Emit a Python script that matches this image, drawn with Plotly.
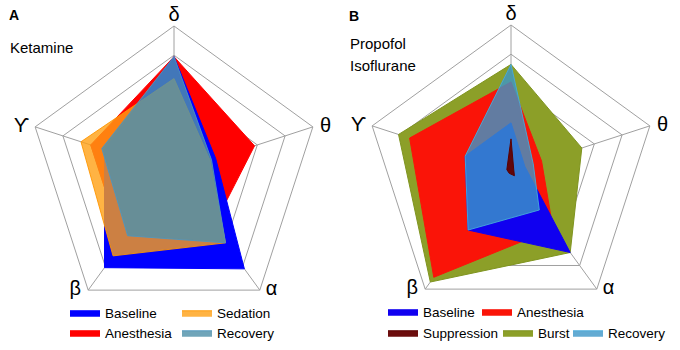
import plotly.graph_objects as go

# ---------------- data ----------------
axes = ['δ', 'θ', 'α', 'β', 'ϒ']
radial_ticks = [0.2, 0.4, 0.6, 0.8, 1.0]

# Panel A (Ketamine)
a_baseline = [0.79, 0.30, 0.82, 0.81, 0.50]
a_anesthesia = [0.79, 0.58, 0.46, 0.60, 0.60]
a_sedation = [0.64, 0.26, 0.60, 0.71, 0.67]
a_recovery = [0.79, 0.27, 0.60, 0.54, 0.52]

# Panel B (Propofol / Isoflurane)
b_baseline = [0.33, 0.10, 0.69, 0.50, 0.33]
b_anesthesia = [0.61, 0.22, 0.49, 0.90, 0.73]
b_suppression = [0.22, 0.02, 0.04, 0.02, 0.03]
b_burst = [0.73, 0.51, 0.69, 0.94, 0.81]
b_recovery = [0.73, 0.16, 0.33, 0.50, 0.33]

FONT = 'Liberation Sans, Arial, sans-serif'
W, H = 680, 350
LABEL_POS = ['top center', 'middle right', 'middle right', 'middle left', 'middle left']
LABEL_GAP = [0, 10, 8, 10, 8]


def closed(v):
    return list(v) + [v[0]]


def poly(name, vals, sub, fill, line, legend):
    return go.Scatterpolar(
        r=closed(vals), theta=closed(axes), subplot=sub, name=name,
        mode='lines', fill='toself', fillcolor=fill,
        line=dict(color=line, width=1), legend=legend,
        hoverinfo='name+r+theta')


def axis_labels(sub):
    rmax = radial_ticks[-1]
    return go.Scatterpolar(
        r=[rmax] * len(axes), theta=axes, subplot=sub, mode='markers+text',
        text=axes, textposition=LABEL_POS, cliponaxis=False,
        marker=dict(size=LABEL_GAP, opacity=0), showlegend=False, hoverinfo='skip',
        textfont=dict(family=FONT, size=20, color='black'))


fig = go.Figure()
# Panel A traces (bottom to top)
fig.add_trace(poly('Anesthesia', a_anesthesia, 'polar', '#FF0000', '#FF0000', 'legend3'))
fig.add_trace(poly('Baseline', a_baseline, 'polar', '#0000FF', '#0000FF', 'legend'))
fig.add_trace(poly('Sedation', a_sedation, 'polar', 'rgba(255,160,20,0.8)', 'rgba(255,150,0,0.9)', 'legend2'))
fig.add_trace(poly('Recovery', a_recovery, 'polar', 'rgba(80,145,170,0.82)', 'rgba(80,150,190,0.9)', 'legend4'))
fig.add_trace(axis_labels('polar'))

# Panel B traces (bottom to top)
fig.add_trace(poly('Burst', b_burst, 'polar2', '#8C9F28', '#7F9420', 'legend8'))
fig.add_trace(poly('Anesthesia', b_anesthesia, 'polar2', '#FA1408', '#FA1408', 'legend6'))
fig.add_trace(poly('Baseline', b_baseline, 'polar2', '#1000F0', '#1000F0', 'legend5'))
fig.add_trace(poly('Recovery', b_recovery, 'polar2', 'rgba(60,150,200,0.8)', 'rgba(70,170,220,0.9)', 'legend9'))
fig.add_trace(poly('Suppression', b_suppression, 'polar2', 'rgba(100,0,0,0.95)', '#5A0000', 'legend7'))
fig.add_trace(axis_labels('polar2'))

GRID = '#A0A0A0'


def polar_layout(xdom, ydom):
    return dict(
        domain=dict(x=xdom, y=ydom),
        gridshape='linear',
        bgcolor='rgba(0,0,0,0)',
        radialaxis=dict(range=[0, 1], tickvals=radial_ticks, showticklabels=False,
                        showline=False, ticks='', gridcolor=GRID, gridwidth=1),
        angularaxis=dict(type='category', categoryarray=axes, rotation=90,
                         direction='clockwise', showline=True, linecolor=GRID,
                         linewidth=1, gridcolor=GRID, gridwidth=1, ticks='',
                         showticklabels=False),
    )


R = 146
ca = (174, 172)
cb = (511, 171)


def dom(c):
    x0 = (c[0] - R) / W
    x1 = (c[0] + R) / W
    y0 = (H - c[1] - R) / H
    y1 = (H - c[1] + R) / H
    return [x0, x1], [y0, y1]


xa, ya = dom(ca)
xb, yb = dom(cb)


def leg(xtext, ytext):
    # xtext: pixel where legend text starts, ytext: pixel row (from top)
    return dict(orientation='h', font=dict(family=FONT, size=13.5, color='black'),
                bgcolor='rgba(0,0,0,0)', xanchor='left', yanchor='middle',
                x=(xtext - 40) / W, y=1 - ytext / H,
                itemclick=False, itemdoubleclick=False)


fig.update_layout(
    width=W, height=H,
    margin=dict(l=0, r=0, t=0, b=0, autoexpand=False),
    paper_bgcolor='white',
    showlegend=True,
    font=dict(family=FONT, color='black'),
    polar=polar_layout(xa, ya),
    polar2=polar_layout(xb, yb),
    legend=leg(105, 313),
    legend2=leg(217, 313),
    legend3=leg(105, 333),
    legend4=leg(217, 333),
    legend5=leg(423, 312),
    legend6=leg(517, 312),
    legend7=leg(423, 333),
    legend8=leg(538, 333),
    legend9=leg(608, 333),
    annotations=[
        dict(text='<b>A</b>', x=7 / W, y=1 - 15 / H, xref='paper', yref='paper',
             xanchor='left', yanchor='middle', showarrow=False, font=dict(size=14)),
        dict(text='Ketamine', x=8 / W, y=1 - 47 / H, xref='paper', yref='paper',
             xanchor='left', yanchor='middle', showarrow=False, font=dict(size=15)),
        dict(text='<b>B</b>', x=347 / W, y=1 - 16 / H, xref='paper', yref='paper',
             xanchor='left', yanchor='middle', showarrow=False, font=dict(size=14)),
        dict(text='Propofol', x=348 / W, y=1 - 43 / H, xref='paper', yref='paper',
             xanchor='left', yanchor='middle', showarrow=False, font=dict(size=15)),
        dict(text='Isoflurane', x=348 / W, y=1 - 65 / H, xref='paper', yref='paper',
             xanchor='left', yanchor='middle', showarrow=False, font=dict(size=15)),
    ],
)

fig.write_html('out.html', config={'displayModeBar': False},
               post_script="document.body.style.margin='0';document.body.style.overflow='hidden';")
